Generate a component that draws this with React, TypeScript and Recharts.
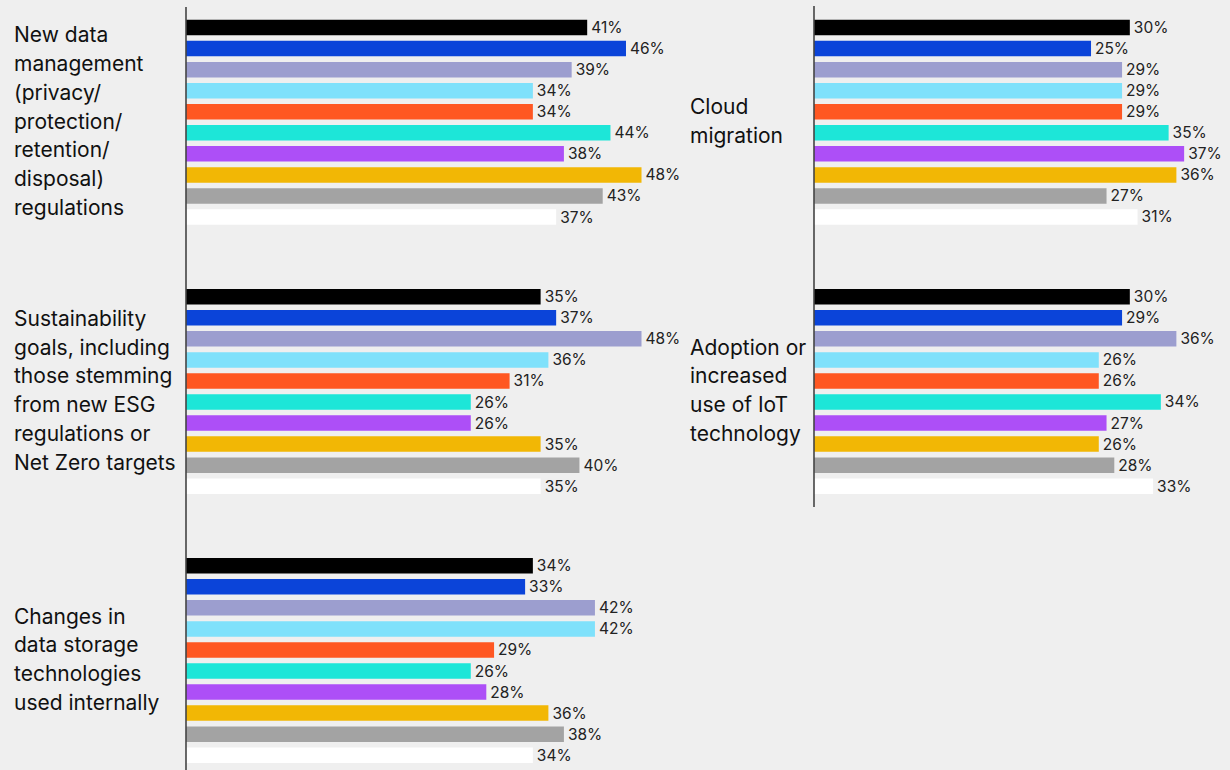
import { BarChart, Bar, XAxis, YAxis, Cell, LabelList } from 'recharts';

// ── Data ──────────────────────────────────────────────────────────────────────

// ten respondent groups, one bar each, same order in every panel
const GROUPS = ['g1', 'g2', 'g3', 'g4', 'g5', 'g6', 'g7', 'g8', 'g9', 'g10'];
const GROUP_COLORS = [
  '#000000', '#0b44d9', '#9c9ecf', '#7fe1fb', '#ff5722',
  '#1de6d8', '#ad4ff7', '#f2b705', '#a3a3a3', '#ffffff',
];

const NEW_DATA_MGMT = [41, 46, 39, 34, 34, 44, 38, 48, 43, 37];
const SUSTAINABILITY = [35, 37, 48, 36, 31, 26, 26, 35, 40, 35];
const DATA_STORAGE = [34, 33, 42, 42, 29, 26, 28, 36, 38, 34];
const CLOUD_MIGRATION = [30, 25, 29, 29, 29, 35, 37, 36, 27, 31];
const IOT_ADOPTION = [30, 29, 36, 26, 26, 34, 27, 26, 28, 33];

const TITLE_NEW_DATA = ['New data', 'management', '(privacy/', 'protection/', 'retention/', 'disposal)', 'regulations'];
const TITLE_SUSTAIN = ['Sustainability', 'goals, including', 'those stemming', 'from new ESG', 'regulations or', 'Net Zero targets'];
const TITLE_STORAGE = ['Changes in', 'data storage', 'technologies', 'used internally'];
const TITLE_CLOUD = ['Cloud', 'migration'];
const TITLE_IOT = ['Adoption or', 'increased', 'use of IoT', 'technology'];

// ── Layout ────────────────────────────────────────────────────────────────────

const AXIS_MIN = -10.7;     // bars start at the axis line
const PX_PER_UNIT = 7.76;
const BAND_BLOCK = 210.5;   // 10 bars
const FONT = 'Inter, "Noto Sans", sans-serif';

interface PanelProps {
  title: string[];
  values: number[];
  axisX: number;
  titleX: number;
  top: number;
  height: number;
  padTop: number;
  padBottom: number;
  max: number;
}

function Panel({ title, values, axisX, titleX, top, height, padTop, padBottom, max }: PanelProps) {
  const data = GROUPS.map((g, i) => ({ group: g, value: values[i] }));
  const plotW = (max - AXIS_MIN) * PX_PER_UNIT;
  const ml = 5;
  const axisW = 1;
  const mr = 40;

  return (
    <>
      <div
        style={{
          position: 'absolute', left: titleX, top: top + padTop, height: BAND_BLOCK,
          display: 'flex', alignItems: 'center',
          fontFamily: FONT, fontSize: 21, lineHeight: '28.8px', color: '#111',
        }}
      >
        <div>
          {title.map((t) => <div key={t}>{t}</div>)}
        </div>
      </div>
      <div style={{ position: 'absolute', left: axisX - ml - axisW, top }}>
        <BarChart
          layout="vertical"
          width={ml + axisW + plotW + mr}
          height={height}
          data={data}
          margin={{ top: 0, right: mr, bottom: 0, left: ml }}
        >
          <XAxis type="number" hide domain={[AXIS_MIN, max]} allowDataOverflow />
          <YAxis
            type="category"
            dataKey="group"
            width={axisW}
            tick={false}
            tickLine={false}
            axisLine={{ stroke: '#444', strokeWidth: 1.6 }}
            padding={{ top: padTop, bottom: padBottom }}
          />
          <Bar dataKey={(d: any) => [AXIS_MIN, d.value]} barSize={15.5} isAnimationActive={false}>
            {data.map((d, i) => (
              <Cell key={d.group} fill={GROUP_COLORS[i]} />
            ))}
            <LabelList
              dataKey="value"
              position="right"
              offset={4}
              formatter={(v: any) => `${v}%`}
              style={{ fontSize: 15.5, fill: '#222', fontFamily: FONT }}
            />
          </Bar>
        </BarChart>
      </div>
    </>
  );
}

export default function App() {
  return (
    <div
      style={{
        position: 'absolute', left: 0, top: 0, width: 1230, height: 770,
        background: '#efefef', overflow: 'hidden',
      }}
    >
      {/* left column */}
      <Panel title={TITLE_NEW_DATA} values={NEW_DATA_MGMT} axisX={186} titleX={14}
        top={7} height={269} padTop={9.8} padBottom={48.7} max={50} />
      <Panel title={TITLE_SUSTAIN} values={SUSTAINABILITY} axisX={186} titleX={14}
        top={276} height={269} padTop={10} padBottom={48.5} max={50} />
      <Panel title={TITLE_STORAGE} values={DATA_STORAGE} axisX={186} titleX={14}
        top={545} height={225} padTop={10} padBottom={4.5} max={50} />

      {/* right column */}
      <Panel title={TITLE_CLOUD} values={CLOUD_MIGRATION} axisX={814} titleX={690}
        top={6} height={270} padTop={10.8} padBottom={48.7} max={40} />
      <Panel title={TITLE_IOT} values={IOT_ADOPTION} axisX={814} titleX={690}
        top={276} height={231} padTop={10} padBottom={10.5} max={40} />
    </div>
  );
}
